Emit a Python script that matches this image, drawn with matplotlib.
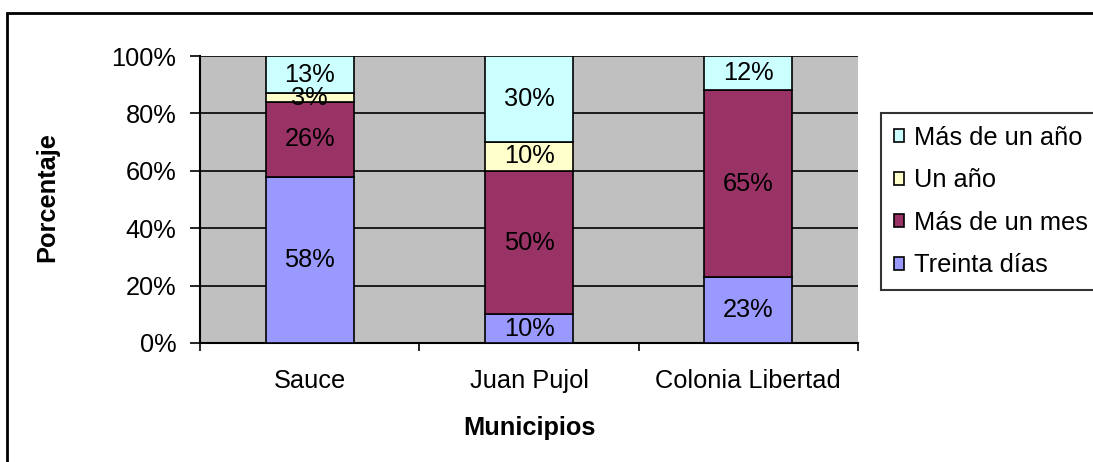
import matplotlib

matplotlib.use("Agg")
import matplotlib.pyplot as plt
from matplotlib.patches import Rectangle
import numpy as np

plt.rcParams["font.family"] = ["Liberation Sans", "DejaVu Sans"]

municipios = ["Sauce", "Juan Pujol", "Colonia Libertad"]
series = ["Treinta días", "Más de un mes", "Un año", "Más de un año"]
treinta_dias = [58, 10, 23]
mas_de_un_mes = [26, 50, 65]
un_anio = [3, 10, 0]
mas_de_un_anio = [13, 30, 12]
colores = ["#9999FF", "#993366", "#FFFFCC", "#CCFFFF"]
y_ticks = [0, 20, 40, 60, 80, 100]

FS = 18.3
W, H = 1093, 462
fig = plt.figure(figsize=(W / 100, H / 100), dpi=100)
fig.patch.set_facecolor("white")

# outer chart border (only top/left visible in the image)
fig.patches.append(Rectangle((7 / W, -0.1), 1.2, 1 - 13.5 / H + 0.1,
                             transform=fig.transFigure, fill=False,
                             edgecolor="black", linewidth=2))

ax = fig.add_axes([200 / W, 1 - 343 / H, 658 / W, 287 / H])
ax.set_facecolor("#C0C0C0")

x = np.arange(len(municipios))
valores = [treinta_dias, mas_de_un_mes, un_anio, mas_de_un_anio]
bottom = np.zeros(len(municipios))
handles = []
for nombre, vals, col in zip(series, valores, colores):
    vals = np.array(vals, dtype=float)
    bars = ax.bar(x, vals, 0.4, bottom=bottom, color=col, edgecolor="black",
                  linewidth=1.2, label=nombre, zorder=3)
    handles.append(bars)
    for xi, b, v in zip(x, bottom, vals):
        if v > 0:
            ax.text(xi, b + v / 2, f"{int(v)}%", ha="center", va="center",
                    fontsize=FS, zorder=4)
    bottom += vals

ax.set_xlim(-0.5, len(municipios) - 0.5)
ax.set_ylim(0, 100)
ax.set_yticks(y_ticks)
ax.set_yticklabels([f"{t}%" for t in y_ticks], fontsize=FS)
ax.yaxis.grid(True, color="black", linewidth=1.2, zorder=1)
ax.set_axisbelow(True)

ax.set_xticks(x)
ax.set_xticklabels(municipios, fontsize=FS)
ax.set_xticks(np.arange(len(municipios) + 1) - 0.5, minor=True)
ax.tick_params(axis="x", which="major", length=0, pad=19)
ax.tick_params(axis="x", which="minor", length=5.5, width=1.2, direction="out")
ax.tick_params(axis="y", length=7, width=1.2, direction="out", pad=10)

for s in ["top", "right"]:
    ax.spines[s].set_visible(False)
ax.spines["left"].set_linewidth(1.5)
ax.spines["bottom"].set_linewidth(1.5)

ax.set_xlabel("Municipios", fontsize=FS, fontweight="bold", va="center")
ax.xaxis.set_label_coords(0.5, (343 - 428) / 287)
ax.set_ylabel("Porcentaje", fontsize=FS, fontweight="bold", va="center")
ax.yaxis.set_label_coords((47 - 200) / 658, 0.51)

leg = fig.legend(handles[::-1], series[::-1], loc="upper left",
                 bbox_to_anchor=(881 / W, 1 - 113 / H), fontsize=FS,
                 frameon=True, fancybox=False, edgecolor="black",
                 handlelength=0.4, handleheight=0.4, handletextpad=0.4,
                 borderpad=0.5, labelspacing=0.73, borderaxespad=0)
leg.get_frame().set_linewidth(1.5)

plt.savefig("out.png", dpi=100)
plt.close()
